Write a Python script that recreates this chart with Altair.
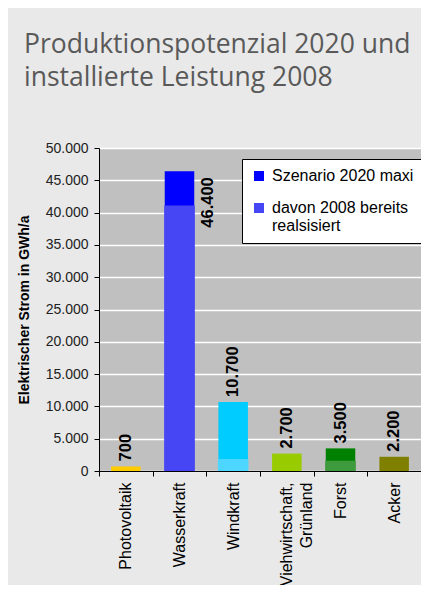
import altair as alt
import pandas as pd

categories = ["Photovoltaik", "Wasserkraft", "Windkraft", "Viehwirtschaft,\nGrünland", "Forst", "Acker"]
total = [700, 46400, 10700, 2700, 3500, 2200]
realized = [0, 41100, 1850, 0, 1600, 0]
colors_total = ["#ffcc00", "#0000ff", "#00ccff", "#99cc00", "#008000", "#808000"]
colors_real = ["#ffcc00", "#4646f5", "#4dd6ff", "#99cc00", "#3d9a3d", "#808000"]
series_names = ["Szenario 2020 maxi", "davon 2008 bereits\nrealsisiert"]
series_colors = ["#0000ff", "#4646f5"]
y_ticks = [0, 5000, 10000, 15000, 20000, 25000, 30000, 35000, 40000, 45000, 50000]

df = pd.DataFrame({
    "cat": categories,
    "total": total,
    "realized": realized,
    "c_total": colors_total,
    "c_real": colors_real,
    "label": [f"{v:,}".replace(",", ".") for v in total],
})
leg_df = pd.DataFrame({"series": series_names, "cat": ["Wasserkraft"] * 2, "v": [0, 0]})

FONT = "Liberation Sans"

x = alt.X(
    "cat:N", sort=categories,
    scale=alt.Scale(paddingInner=0, paddingOuter=0),
    axis=alt.Axis(
        title=None, labelAngle=-90, labelExpr="split(datum.label, '\\n')",
        tickBand="extent", tickSize=5, tickColor="black", domainColor="black",
        labelFont=FONT, labelFontSize=16, labelColor="black", labelPadding=6,
        labelLineHeight=20, grid=False, labelLimit=200,
    ),
)
y_scale = alt.Scale(domain=[0, 50000], nice=False)
y_axis = alt.Axis(
    title="Elektrischer Strom in GWh/a", values=y_ticks,
    labelExpr="replace(format(datum.value, ','), ',', '.')",
    grid=True, gridColor="white", gridWidth=1.5,
    domainColor="black", tickColor="black", tickSize=5,
    labelFont=FONT, labelFontSize=14, labelColor="#222222", labelPadding=6,
    titleFont=FONT, titleFontSize=14, titleFontWeight="bold", titleColor="black",
    titlePadding=14,
)

base = alt.Chart(df)

bar_total = base.mark_bar(width={"band": 0.55}).encode(
    x=x, y=alt.Y("total:Q", scale=y_scale, axis=y_axis),
    fill=alt.Fill("c_total:N", scale=None),
)
bar_real = base.transform_filter("datum.realized > 0").mark_bar(width={"band": 0.57}).encode(
    x=x, y=alt.Y("realized:Q", scale=y_scale, axis=y_axis),
    fill=alt.Fill("c_real:N", scale=None),
)
lab_other = base.transform_filter("datum.cat != 'Wasserkraft'").mark_text(
    angle=270, align="left", baseline="middle", dx=5,
    font=FONT, fontSize=16.5, fontWeight="bold", color="black",
).encode(x=x, y=alt.Y("total:Q", scale=y_scale, axis=y_axis), text="label:N")
lab_w = base.transform_filter("datum.cat == 'Wasserkraft'").mark_text(
    angle=270, align="right", baseline="middle", dx=-6, dy=28,
    font=FONT, fontSize=16.5, fontWeight="bold", color="black",
).encode(x=x, y=alt.Y("total:Q", scale=y_scale, axis=y_axis), text="label:N")

legend_layer = alt.Chart(leg_df).mark_square(opacity=0).encode(
    x=x, y=alt.Y("v:Q", scale=y_scale, axis=y_axis),
    color=alt.Color(
        "series:N",
        scale=alt.Scale(domain=series_names, range=series_colors),
        legend=alt.Legend(
            title=None, orient="none", legendX=143, legendY=11,
            fillColor="white", strokeColor="black", padding=9,
            symbolType="square", symbolSize=100, symbolOpacity=1, symbolStrokeWidth=0,
            labelFont=FONT, labelFontSize=16, labelColor="black", labelLimit=300,
            labelOffset=5, rowPadding=16, labelExpr="split(datum.label, '\\n')",
        ),
    ),
)

chart = alt.layer(bar_total, bar_real, lab_other, lab_w, legend_layer).properties(
    width=322, height=323,
    padding={"left": 91, "top": 140, "right": 0, "bottom": 114},
    autosize=alt.AutoSizeParams(type="none"),
    background="#e9e9e9",
    title=alt.Title(
        text=["Produktionspotenzial 2020 und", "installierte Leistung 2008"],
        anchor="start", frame="group", dx=-75, offset=50,
        font="Open Sans", fontSize=26.5, fontWeight="normal", color="#595959",
        lineHeight=33,
    ),
).configure_view(fill="#c0c0c0", stroke="#a0a0a0")

chart.save("out.html", embed_options={"renderer": "svg", "actions": False})
